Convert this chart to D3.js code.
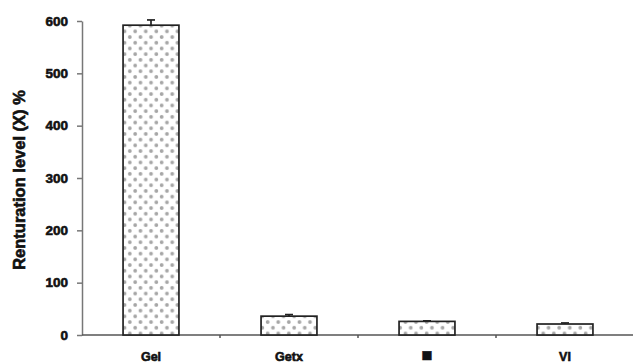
<!DOCTYPE html>
<html>
<head>
<meta charset="utf-8">
<script src="https://cdn.jsdelivr.net/npm/d3@7"></script>
<style>
  body { margin: 0; background: #fff; }
  text { font-family: "Liberation Sans", Arial, sans-serif; font-weight: bold; }
</style>
</head>
<body>
<svg id="chart" width="633" height="364"></svg>
<script>
const categories = ["Gel", "Getx", "■", "VI"]
const values = [592, 36, 26, 21]
const errors = [10, 3, 1, 2]
const yTicks = [0, 100, 200, 300, 400, 500, 600]

const width = 633, height = 364
const margin = { top: 21, right: 0, bottom: 29, left: 82 }

const svg = d3.select("#chart")

// dotted fill like the original
const defs = svg.append("defs")
const pat = defs.append("pattern")
  .attr("id", "dots")
  .attr("width", 10.6).attr("height", 11.4)
  .attr("patternUnits", "userSpaceOnUse")
pat.append("rect").attr("width", 10.6).attr("height", 11.4).attr("fill", "#fff")
pat.append("circle").attr("cx", 2.65).attr("cy", 2.85).attr("r", 1.9).attr("fill", "#a6a6a6")
pat.append("circle").attr("cx", 7.95).attr("cy", 8.55).attr("r", 1.9).attr("fill", "#a6a6a6")

const x = d3.scaleBand()
  .domain(categories)
  .range([margin.left, width - margin.right + 1])
  .paddingInner(0)
  .paddingOuter(0)

const y = d3.scaleLinear()
  .domain([0, 600])
  .range([height - margin.bottom, margin.top])

const barW = x.bandwidth() * 0.405

// y axis
const yAxis = svg.append("g")
  .attr("transform", `translate(${margin.left},0)`)
  .call(d3.axisLeft(y).tickValues(yTicks).tickSize(5).tickSizeOuter(0))
yAxis.select(".domain").attr("stroke", "#777").attr("stroke-width", 1.5)
yAxis.selectAll(".tick line").attr("stroke", "#777").attr("stroke-width", 1.5)
yAxis.selectAll(".tick text")
  .attr("x", -14)
  .attr("fill", "#111")
  .attr("stroke", "#111")
  .attr("stroke-width", 0.6)
  .style("font-size", "13.5px")

// x axis
const xAxis = svg.append("g")
  .attr("transform", `translate(0,${y(0)})`)
xAxis.append("line")
  .attr("x1", margin.left).attr("x2", width)
  .attr("stroke", "#555").attr("stroke-width", 1.5)
xAxis.selectAll(".sep")
  .data(categories.slice(1))
  .enter().append("line")
  .attr("x1", d => x(d)).attr("x2", d => x(d))
  .attr("y1", 0).attr("y2", 3)
  .attr("stroke", "#555").attr("stroke-width", 1.5)
xAxis.selectAll(".lbl")
  .data(categories)
  .enter().append("text")
  .attr("x", d => x(d) + x.bandwidth() / 2)
  .attr("y", 26)
  .attr("text-anchor", "middle")
  .attr("fill", "#111")
  .attr("stroke", "#111")
  .attr("stroke-width", 0.6)
  .style("font-size", d => d === "■" ? "18px" : "12.5px")
  .text(d => d)

// bars
svg.append("g")
  .selectAll("rect")
  .data(values)
  .enter().append("rect")
  .attr("x", (d, i) => x(categories[i]) + (x.bandwidth() - barW) / 2)
  .attr("y", d => y(d))
  .attr("width", barW)
  .attr("height", d => y(0) - y(d))
  .attr("fill", "url(#dots)")
  .attr("stroke", "#222")
  .attr("stroke-width", 1.7)

// error bars
const eb = svg.append("g").attr("stroke", "#222").attr("stroke-width", 1.7)
values.forEach((v, i) => {
  const cx = x(categories[i]) + x.bandwidth() / 2
  eb.append("line").attr("x1", cx).attr("x2", cx).attr("y1", y(v)).attr("y2", y(v + errors[i]))
  eb.append("line").attr("x1", cx - 4).attr("x2", cx + 4).attr("y1", y(v + errors[i])).attr("y2", y(v + errors[i]))
})

// y title
svg.append("text")
  .attr("transform", `translate(25,${(y(0) + y(600)) / 2 + 2}) rotate(-90)`)
  .attr("text-anchor", "middle")
  .attr("fill", "#111")
  .attr("stroke", "#111")
  .attr("stroke-width", 0.6)
  .style("font-size", "16.5px")
  .text("Renturation level (X) %")
</script>
</body>
</html>
